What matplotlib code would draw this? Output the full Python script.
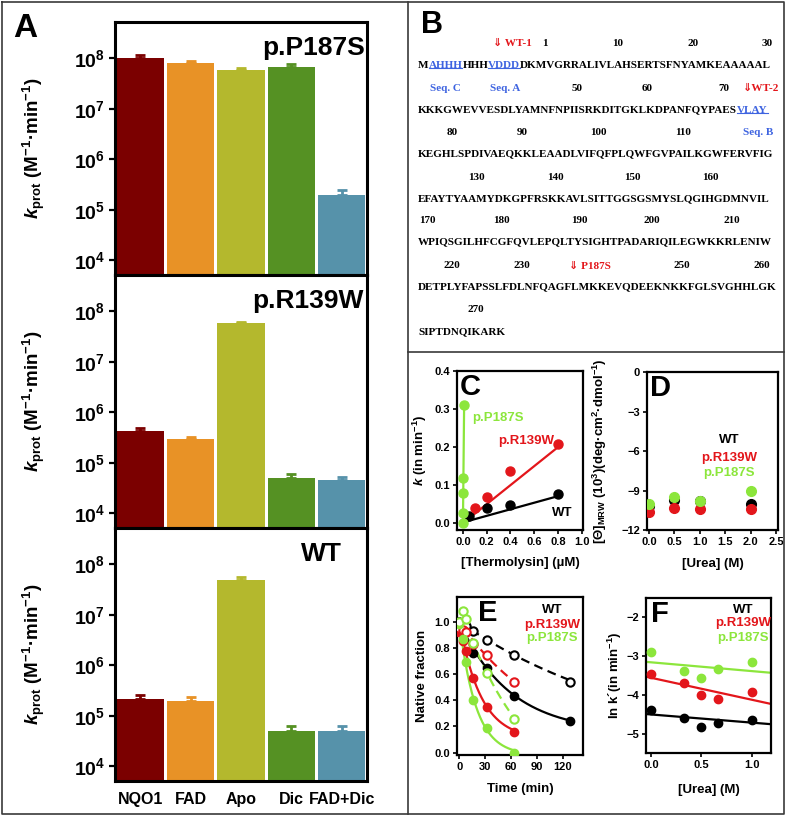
import numpy as np
import matplotlib
matplotlib.use('Agg')
import matplotlib.pyplot as plt
from matplotlib.ticker import NullLocator, FormatStrFormatter

plt.rcParams['font.family'] = ['Liberation Sans', 'DejaVu Sans']
plt.rcParams['font.weight'] = 'bold'
plt.rcParams['axes.labelweight'] = 'bold'
plt.rcParams['mathtext.fontset'] = 'custom'
plt.rcParams['mathtext.rm'] = 'Liberation Sans:bold'
plt.rcParams['mathtext.bf'] = 'Liberation Sans:bold'
plt.rcParams['mathtext.sf'] = 'Liberation Sans:bold'
plt.rcParams['mathtext.it'] = 'Liberation Sans:bold:italic'

# ---- panel A data ----
conditions = ['NQO1', 'FAD', 'Apo', 'Dic', 'FAD+Dic']
bar_colors = ['#7b0000', '#e89226', '#b4b82d', '#559123', '#5692aa']
variants = ['p.P187S', 'p.R139W', 'WT']
kprot_p187s = [1.0e8, 8.1e7, 6.0e7, 6.7e7, 2.0e5]
err_p187s = [1.5e7, 8e6, 4.6e6, 1.2e7, 4.5e4]
kprot_r139w = [4.2e5, 3.0e5, 5.8e7, 5.1e4, 4.5e4]
err_r139w = [6e4, 3e4, 4e6, 8e3, 7e3]
kprot_wt = [2.2e5, 2.0e5, 5.0e7, 5.0e4, 5.0e4]
err_wt = [4e4, 3.5e4, 5e6, 1.2e4, 1.2e4]

# ---- panel C data ----
thermo_p187s = [0.0, 0.001, 0.0025, 0.004, 0.01]
k_p187s = [0.0, 0.027, 0.08, 0.119, 0.31]
thermo_r139w = [0.1, 0.2, 0.4, 0.8]
k_r139w = [0.041, 0.069, 0.138, 0.208]
thermo_wt = [0.05, 0.2, 0.4, 0.8]
k_wt = [0.018, 0.041, 0.049, 0.077]
fit_x_p187s = [0.0, 0.01]
fit_y_p187s = [0.0, 0.31]
fit_x_c = [0.0, 0.8]
fit_y_r139w = [0.0, 0.2]
fit_y_wt = [0.002, 0.071]

# ---- panel D data ----
urea_d = [0.0, 0.5, 1.0, 2.0]
theta_wt = [-10.15, -9.7, -9.8, -10.0]
theta_r139w = [-10.6, -10.3, -10.4, -10.4]
theta_p187s = [-10.05, -9.5, -9.8, -9.0]

# ---- panel E data ----
time_e = [0, 4, 8, 16, 32, 64]
time_e_wt = [0, 4, 8, 16, 32, 64, 128]
nat_wt = [1.0, 0.98, 0.96, 0.76, 0.65, 0.43, 0.24]
nat_wt_open = [1.0, 0.99, 0.97, 0.93, 0.86, 0.745, 0.54]
nat_r139w = [0.92, 0.85, 0.78, 0.57, 0.35, 0.16]
nat_r139w_open = [0.95, 0.94, 0.92, 0.83, 0.745, 0.54]
nat_p187s = [0.98, 0.87, 0.69, 0.40, 0.186, 0.0]
nat_p187s_open = [1.0, 1.08, 1.02, 0.84, 0.61, 0.26]
# exponential fits: amplitude, rate (1/min), offset, t start, t end
fit_wt = (0.85, 0.017, 0.15, 0, 128)
fit_wt_open = (1.0, 0.0046, 0.0, 0, 128)
fit_r139w = (0.9, 0.04, 0.1, 2, 64)
fit_r139w_open = (1.0, 0.0096, 0.0, 4, 64)
fit_p187s = (1.02, 0.052, -0.02, 3, 64)
fit_p187s_open = (1.638, 0.01157, -0.521, 8, 64)

# ---- panel F data ----
urea_f = [0.0, 0.33, 0.5, 0.66, 1.0]
lnk_wt = [-4.38, -4.59, -4.82, -4.72, -4.62]
lnk_r139w = [-3.44, -3.69, -3.99, -4.10, -3.91]
lnk_p187s = [-2.88, -3.38, -3.56, -3.32, -3.14]
fit_x_f = [-0.05, 1.19]
fit_f_wt = [-4.48, -4.74]
fit_f_r139w = [-3.52, -4.22]
fit_f_p187s = [-3.14, -3.42]

# ---- panel B sequence ----
seq_rows = [
    [('M', 'black', 0), ('AHHH', 'blue', 1), ('HHH', 'black', 0), ('VDDD', 'blue', 1),
     ('DKMVGRRALIVLAHSERTSFNYAMKEAAAAAL', 'black', 0)],
    [('KKKGWEVVESDLYAMNFNPIISRKDITGKLKDPANFQYPAES', 'black', 0), ('VLAY', 'blue', 1)],
    [('KEGHLSPDIVAEQKKLEAADLVIFQFPLQWFGVPAILKGWFERVFIG', 'black', 0)],
    [('EFAYTYAAMYDKGPFRSKKAVLSITTGGSGSMYSLQGIHGDMNVIL', 'black', 0)],
    [('WPIQSGILHFCGFQVLEPQLTYSIGHTPADARIQILEGWKKRLENIW', 'black', 0)],
    [('DETPLYFAPSSLFDLNFQAGFLMKKEVQDEEKNKKFGLSVGHHLGK', 'black', 0)],
    [('SIPTDNQIKARK', 'black', 0)],
]
seq_y = [65, 110, 154, 199, 242, 287, 332]
num_rows = [
    (43, [(493, '⇓ WT-1', 'red'), (542, '1', 'black'), (612, '10', 'black'),
          (687, '20', 'black'), (762, '30', 'black')]),
    (88, [(430, 'Seq. C', 'blue'), (490, 'Seq. A', 'blue'), (572, '50', 'black'),
          (642, '60', 'black'), (718, '70', 'black'), (743, '⇓WT-2', 'red')]),
    (132, [(447, '80', 'black'), (517, '90', 'black'), (590, '100', 'black'),
           (675, '110', 'black'), (743, 'Seq. B', 'blue')]),
    (177, [(468, '130', 'black'), (547, '140', 'black'), (624, '150', 'black'),
           (702, '160', 'black')]),
    (220, [(419, '170', 'black'), (493, '180', 'black'), (571, '190', 'black'),
           (644, '200', 'black'), (723, '210', 'black')]),
    (266, [(443, '220', 'black'), (513, '230', 'black'), (569, '⇓ P187S', 'red'),
           (673, '250', 'black'), (754, '260', 'black')]),
    (309, [(468, '270', 'black')]),
]
text_colors = {'black': 'black', 'blue': '#3d63e0', 'red': '#e3161b'}

green = '#8ce63c'
red = '#e3161b'

W, H = 787, 817
fig = plt.figure(figsize=(W / 100, H / 100), dpi=100)


def box(l, t, r, b):
    return [l / W, 1 - b / H, (r - l) / W, (b - t) / H]


# ===== Panel A =====
a_tops = [22, 275, 528]
a_vals = [kprot_p187s, kprot_r139w, kprot_wt]
a_errs = [err_p187s, err_r139w, err_wt]
a_title_pos = [(0.992, 'right'), (0.985, 'right'), (0.82, 'center')]
yt = [1e4, 1e5, 1e6, 1e7, 1e8]
for i in range(3):
    ax = fig.add_axes(box(115, a_tops[i], 367, a_tops[i] + 253))
    ax.set_yscale('log')
    x = np.arange(len(conditions))
    ax.bar(x, a_vals[i], width=0.94, color=bar_colors, zorder=2)
    for xi, v, e, c in zip(x, a_vals[i], a_errs[i], bar_colors):
        ax.errorbar(xi, v, yerr=[[0], [e]], color=c, capsize=3.6, capthick=2,
                    elinewidth=2, zorder=3)
    ax.set_ylim(10 ** 3.71, 10 ** 8.72)
    ax.set_xlim(-0.5, 4.5)
    ax.set_yticks(yt, [r'$10^{%d}$' % int(np.log10(v)) for v in yt])
    ax.yaxis.set_minor_locator(NullLocator())
    for s in ax.spines.values():
        s.set_linewidth(2.2)
    ax.tick_params(axis='y', labelsize=14, length=4, width=1.6, pad=3)
    ax.set_xticks(x)
    if i == 2:
        ax.set_xticklabels(conditions, fontsize=11.5)
        ax.tick_params(axis='x', length=0, pad=8)
    else:
        ax.set_xticklabels([])
        ax.tick_params(axis='x', length=0)
    ax.set_ylabel(r'$k_{\mathrm{prot}}$ (M$^{\mathrm{-1}}$·min$^{\mathrm{-1}}$)', fontsize=13.5)
    ax.yaxis.set_label_coords(-0.27, 0.5)
    tx, ha = a_title_pos[i]
    ax.text(tx, 0.945, variants[i], transform=ax.transAxes, ha=ha, va='top',
            fontsize=19, fontweight='bold')


def style_small(ax):
    for s in ax.spines.values():
        s.set_linewidth(1.6)
    ax.tick_params(labelsize=8, length=3, width=1.2, direction='out', pad=2)


def letter(ax, x, y, s):
    ax.text(x, y, s, transform=ax.transAxes, ha='left', va='top', fontsize=21,
            fontweight='bold')


# ===== Panel C =====
ax_c = fig.add_axes(box(457, 371, 583, 530))
ax_c.plot(fit_x_c, fit_y_wt, color='black', lw=1.6, zorder=2)
ax_c.plot(fit_x_c, fit_y_r139w, color=red, lw=1.6, zorder=2)
ax_c.plot(fit_x_p187s, fit_y_p187s, color=green, lw=1.6, zorder=2)
ax_c.plot(thermo_wt, k_wt, 'o', color='black', ms=6.5, zorder=3)
ax_c.plot(thermo_r139w, k_r139w, 'o', color=red, ms=6.5, zorder=3)
ax_c.plot(thermo_p187s, k_p187s, 'o', color=green, ms=6.5, zorder=4)
ax_c.set_xlim(-0.05, 1.01)
ax_c.set_ylim(-0.018, 0.4)
ax_c.set_xticks([0, 0.2, 0.4, 0.6, 0.8, 1.0])
ax_c.set_yticks([0, 0.1, 0.2, 0.3, 0.4])
ax_c.xaxis.set_major_formatter(FormatStrFormatter('%.1f'))
ax_c.yaxis.set_major_formatter(FormatStrFormatter('%.1f'))
style_small(ax_c)
ax_c.set_xlabel('[Thermolysin] (µM)', fontsize=9.5)
ax_c.set_ylabel(r'$k$ (in min$^{\mathrm{-1}}$)', fontsize=9.5)
ax_c.xaxis.set_label_coords(0.5, -0.17)
ax_c.yaxis.set_label_coords(-0.22, 0.5)
ax_c.text(0.075, 0.276, 'p.P187S', color=green, fontsize=9.5, va='center')
ax_c.text(0.297, 0.216, 'p.R139W', color=red, fontsize=9.5, va='center')
ax_c.text(0.75, 0.026, 'WT', color='black', fontsize=9.5, va='center')
letter(ax_c, 0.02, 0.985, 'C')

# ===== Panel D =====
ax_d = fig.add_axes(box(647, 372, 778, 530))
ax_d.plot(urea_d, theta_wt, 'o', color='black', ms=7, zorder=3)
ax_d.plot(urea_d, theta_r139w, 'o', color=red, ms=7, zorder=4)
ax_d.plot(urea_d, theta_p187s, 'o', color=green, ms=7, zorder=5)
ax_d.set_xlim(-0.04, 2.54)
ax_d.set_ylim(-12, 0)
ax_d.set_xticks([0, 0.5, 1.0, 1.5, 2.0, 2.5])
ax_d.set_yticks([0, -3, -6, -9, -12])
ax_d.xaxis.set_major_formatter(FormatStrFormatter('%.1f'))
style_small(ax_d)
ax_d.set_xlabel('[Urea] (M)', fontsize=9.5)
ax_d.set_ylabel(r'[Θ]$_{\mathrm{MRW}}$ (10$^{\mathrm{3}}$)(deg·cm$^{\mathrm{2}}$·dmol$^{\mathrm{-1}}$)',
                fontsize=9.5)
ax_d.xaxis.set_label_coords(0.5, -0.18)
ax_d.yaxis.set_label_coords(-0.29, 0.5)
ax_d.text(1.57, -5.16, 'WT', color='black', fontsize=9.5, ha='center', va='center')
ax_d.text(1.57, -6.5, 'p.R139W', color=red, fontsize=9.5, ha='center', va='center')
ax_d.text(1.57, -7.65, 'p.P187S', color=green, fontsize=9.5, ha='center', va='center')
letter(ax_d, 0.02, 0.985, 'D')

# ===== Panel E =====
ax_e = fig.add_axes(box(457, 597, 583, 755))


def exp_curve(p):
    amp, rate, off, t0, t1 = p
    t = np.linspace(t0, t1, 200)
    return t, amp * np.exp(-rate * t) + off


for p, col, ls in [(fit_wt, 'black', '-'), (fit_wt_open, 'black', '--'),
                   (fit_r139w, red, '-'), (fit_r139w_open, red, '--'),
                   (fit_p187s, green, '-'), (fit_p187s_open, green, '--')]:
    tt, yy = exp_curve(p)
    ln, = ax_e.plot(tt, yy, color=col, lw=1.6, ls=ls, zorder=2)
    if ls == '--':
        ln.set_dashes((4, 2.5))
ax_e.plot(time_e_wt, nat_wt, 'o', color='black', ms=6, zorder=3)
ax_e.plot(time_e_wt, nat_wt_open, 'o', mfc='white', mec='black', mew=1.5, ms=6, zorder=3)
ax_e.plot(time_e, nat_r139w, 'o', color=red, ms=6, zorder=4)
ax_e.plot(time_e, nat_r139w_open, 'o', mfc='white', mec=red, mew=1.5, ms=6, zorder=4)
ax_e.plot(time_e, nat_p187s, 'o', color=green, ms=6, zorder=5)
ax_e.plot(time_e, nat_p187s_open, 'o', mfc='white', mec=green, mew=1.5, ms=6, zorder=5)
ax_e.set_xlim(-2.7, 143.5)
ax_e.set_ylim(-0.018, 1.19)
ax_e.set_xticks([0, 30, 60, 90, 120])
ax_e.set_yticks([0, 0.2, 0.4, 0.6, 0.8, 1.0])
ax_e.yaxis.set_major_formatter(FormatStrFormatter('%.1f'))
style_small(ax_e)
ax_e.set_xlabel('Time (min)', fontsize=9.5)
ax_e.set_ylabel('Native fraction', fontsize=9.5)
ax_e.xaxis.set_label_coords(0.5, -0.18)
ax_e.yaxis.set_label_coords(-0.23, 0.5)
ax_e.text(108, 1.09, 'WT', color='black', fontsize=9.5, ha='center', va='center')
ax_e.text(108, 0.975, 'p.R139W', color=red, fontsize=9.5, ha='center', va='center')
ax_e.text(108, 0.875, 'p.P187S', color=green, fontsize=9.5, ha='center', va='center')
letter(ax_e, 0.17, 0.985, 'E')

# ===== Panel F =====
ax_f = fig.add_axes(box(646, 598, 771, 753))
ax_f.plot(fit_x_f, fit_f_wt, color='black', lw=1.6, zorder=2)
ax_f.plot(fit_x_f, fit_f_r139w, color=red, lw=1.6, zorder=2)
ax_f.plot(fit_x_f, fit_f_p187s, color=green, lw=1.6, zorder=2)
ax_f.plot(urea_f, lnk_wt, 'o', color='black', ms=6, zorder=3)
ax_f.plot(urea_f, lnk_r139w, 'o', color=red, ms=6, zorder=3)
ax_f.plot(urea_f, lnk_p187s, 'o', color=green, ms=6, zorder=3)
ax_f.set_xlim(-0.05, 1.19)
ax_f.set_ylim(-5.48, -1.5)
ax_f.set_xticks([0, 0.5, 1.0])
ax_f.set_yticks([-2, -3, -4, -5])
ax_f.xaxis.set_major_formatter(FormatStrFormatter('%.1f'))
style_small(ax_f)
ax_f.set_xlabel('[Urea] (M)', fontsize=9.5)
ax_f.set_ylabel(r'ln k´(in min$^{\mathrm{-1}}$)', fontsize=9.5)
ax_f.xaxis.set_label_coords(0.5, -0.2)
ax_f.yaxis.set_label_coords(-0.18, 0.5)
ax_f.text(0.91, -1.81, 'WT', color='black', fontsize=9.5, ha='center', va='center')
ax_f.text(0.91, -2.15, 'p.R139W', color=red, fontsize=9.5, ha='center', va='center')
ax_f.text(0.91, -2.53, 'p.P187S', color=green, fontsize=9.5, ha='center', va='center')
letter(ax_f, 0.04, 0.985, 'F')

# ===== overlay: frames, panel letters A/B, sequence =====
ax_o = fig.add_axes([0, 0, 1, 1])
ax_o.set_xlim(0, W)
ax_o.set_ylim(H, 0)
ax_o.axis('off')
frame = dict(color='#3a3a3a', lw=1.2, clip_on=False)
ax_o.plot([2, 784, 784, 2, 2], [2, 2, 814, 814, 2], **frame)
ax_o.plot([408, 408], [2, 814], **frame)
ax_o.plot([408, 784], [352, 352], **frame)
ax_o.text(13, 13, 'A', fontsize=24, fontweight='bold', ha='left', va='top')
ax_o.text(421, 10, 'B', fontsize=22, fontweight='bold', ha='left', va='top')

serif = ['Liberation Serif', 'DejaVu Sans']
for y, items in num_rows:
    for x, s, c in items:
        ax_o.text(x, y, s, color=text_colors[c], family=serif, fontweight='bold',
                  fontsize=8, ha='left', va='center')

underlined = []
for y, parts in zip(seq_y, seq_rows):
    prev = None
    for s, c, ul in parts:
        if prev is None:
            t = ax_o.text(418, y, s, color=text_colors[c], family=serif,
                          fontweight='bold', fontsize=8, ha='left', va='center')
        else:
            t = ax_o.annotate(s, xy=(1, 0), xycoords=prev, color=text_colors[c],
                              family=serif, fontweight='bold', fontsize=8,
                              ha='left', va='bottom')
        if ul:
            underlined.append(t)
        prev = t

fig.canvas.draw()
inv = ax_o.transData.inverted()
for t in underlined:
    bb = t.get_window_extent()
    (x0, y0), (x1, _) = inv.transform([(bb.x0, bb.y0 + 1.3), (bb.x1, bb.y0 + 1.3)])
    ax_o.plot([x0, x1], [y0, y0], color=text_colors['blue'], lw=0.8)

fig.savefig('out.png', dpi=100)
